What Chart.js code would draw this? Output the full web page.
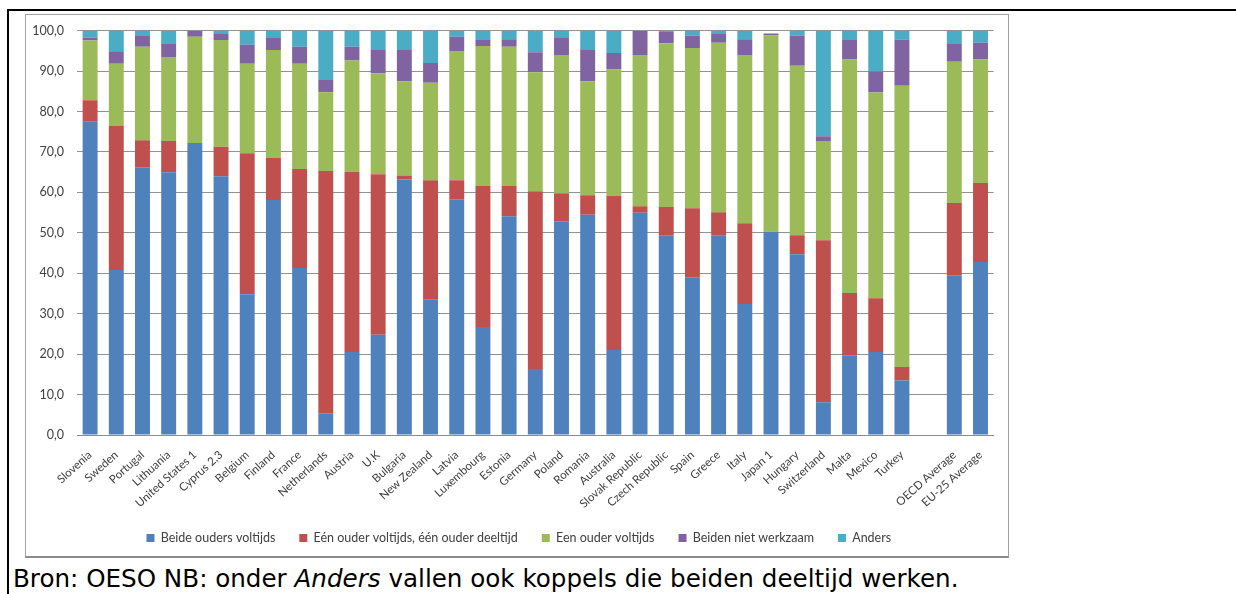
<!DOCTYPE html>
<html><head><meta charset="utf-8">
<script src="https://cdn.jsdelivr.net/npm/chart.js@4.4.1/dist/chart.umd.min.js"></script>
<style>
html,body{margin:0;padding:0;background:#fff;width:1236px;height:594px;overflow:hidden;}
#topline{position:absolute;left:7px;top:9px;width:1229px;height:2px;background:#000;}
#leftline{position:absolute;left:7px;top:9px;width:2px;height:585px;background:#000;}
#box{position:absolute;left:25px;top:14px;width:982px;height:541px;border:1px solid #a0a0a0;border-bottom:2px solid #8c8c8c;}
#wrap{position:absolute;left:26px;top:15px;width:982px;height:541px;}
#caption{position:absolute;left:13px;top:565px;font-family:'DejaVu Sans';font-size:24.6px;line-height:28px;color:#000;white-space:nowrap;}
</style></head>
<body>
<div id="topline"></div><div id="leftline"></div>
<div id="box"></div>
<div id="wrap"><canvas id="c"></canvas></div>
<div id="caption">Bron: OESO NB: onder <i>Anders</i> vallen ook koppels die beiden deeltijd werken.</div>
<script>
const categories = ['Slovenia','Sweden','Portugal','Lithuania','United States 1','Cyprus 2,3','Belgium','Finland','France','Netherlands','Austria','U.K','Bulgaria','New Zealand','Latvia','Luxembourg','Estonia','Germany','Poland','Romania','Australia','Slovak Republic','Czech Republic','Spain','Greece','Italy','Japan 1','Hungary','Switzerland','Malta','Mexico','Turkey','','OECD Average','EU-25 Average'];
const seriesNames = ['Beide ouders voltijds','Eén ouder voltijds, één ouder deeltijd','Een ouder voltijds','Beiden niet werkzaam','Anders'];
const beideVoltijds = [77.5,40.8,66.2,65.0,72.2,64.0,34.8,58.1,41.3,5.4,20.5,24.8,63.2,33.6,58.3,26.7,54.1,16.3,52.9,54.5,21.0,55.0,49.3,39.0,49.3,32.4,50.3,44.7,8.1,19.7,20.5,13.5,null,39.5,42.8];
const eenVoltijdsEenDeeltijd = [5.3,35.6,6.7,7.7,0,7.3,34.9,10.4,24.5,59.9,44.6,39.7,1.0,29.4,4.7,34.9,7.5,44.0,6.9,4.8,38.2,1.6,7.1,17.1,5.8,20.0,0,4.7,40.1,15.4,13.3,3.3,null,17.9,19.5];
const eenOuderVoltijds = [14.8,15.4,23.1,20.8,26.3,26.4,22.1,26.7,26.0,19.5,27.5,25.0,23.3,24.1,32.0,34.6,34.4,29.4,34.2,28.2,31.2,37.4,40.5,39.6,41.9,41.6,48.5,41.9,24.5,57.8,50.9,69.6,null,34.9,30.6];
const beidenNietWerkzaam = [0.7,3.1,2.7,3.2,1.5,1.5,4.7,3.0,4.2,3.0,3.4,5.7,7.7,4.9,3.5,1.5,1.9,5.0,4.4,7.7,4.1,6.0,2.8,3.1,2.2,3.9,0.5,7.5,1.2,4.8,5.2,11.4,null,4.4,4.1];
const anders = [1.7,5.1,1.3,3.3,0,0.8,3.5,1.8,4.0,12.2,4.0,4.8,4.8,8.0,1.5,2.3,2.1,5.3,1.6,4.8,5.5,0,0.3,1.2,0.8,2.1,0,1.2,26.1,2.3,10.1,2.2,null,3.3,3.0];
const yTickLabels = ['0,0','10,0','20,0','30,0','40,0','50,0','60,0','70,0','80,0','90,0','100,0'];
const colors = ['#4F81BD','#C0504D','#9BBB59','#8064A2','#4BACC6'];

const allSeries = [beideVoltijds, eenVoltijdsEenDeeltijd, eenOuderVoltijds, beidenNietWerkzaam, anders];
const datasets = allSeries.map((d,i)=>({
  label: seriesNames[i], data: d, backgroundColor: colors[i], borderWidth: 0,
  barPercentage: 0.57, categoryPercentage: 1.0
}));

const legendShift = {
  id: 'legendShift',
  afterLayout(chart) {
    if (chart.legend) { chart.legend.left += 9; chart.legend.right += 9; }
  }
};

new Chart(document.getElementById('c'), {
  type: 'bar',
  data: { labels: categories, datasets },
  plugins: [legendShift],
  options: {
    responsive: true, maintainAspectRatio: false, animation: false, devicePixelRatio: 1,
    layout: { padding: { left: 0, right: 14.4, top: 15.7, bottom: 1.75 } },
    plugins: {
      tooltip: { enabled: false },
      legend: {
        position: 'bottom',
        labels: { boxWidth: 8, boxHeight: 8, padding: 24, color: '#404040',
          font: { family: 'Lato', size: 12.5 } }
      }
    },
    scales: {
      x: {
        stacked: true,
        grid: { display: false, drawTicks: false },
        border: { display: true, color: '#8c8c8c', width: 1 },
        ticks: { autoSkip: false, minRotation: 42, maxRotation: 42, padding: 13, color: '#404040',
          font: { family: 'Lato', size: 11.5 } },
        afterFit: (s) => { s.height = 72.75; }
      },
      y: {
        stacked: true, min: 0, max: 100,
        grid: { color: '#929292', lineWidth: 1, drawTicks: true, tickLength: 5, tickColor: 'rgba(0,0,0,0)' },
        border: { display: false },
        ticks: { stepSize: 10, padding: 8, color: '#404040',
          font: { family: 'Lato', size: 12.5 },
          callback: (v, i) => yTickLabels[i] },
        afterFit: (s) => { s.width = 51; }
      }
    }
  }
});
</script>
</body></html>
